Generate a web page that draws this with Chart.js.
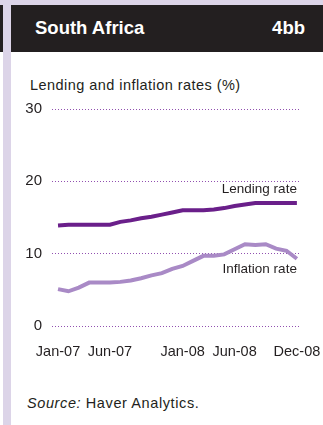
<!DOCTYPE html>
<html>
<head>
<meta charset="utf-8">
<script src="https://cdn.jsdelivr.net/npm/chart.js@4/dist/chart.umd.min.js"></script>
<style>
  html, body { margin: 0; padding: 0; background: #fff; }
  body { width: 323px; height: 425px; position: relative; overflow: hidden;
         font-family: "Liberation Sans", Arial, sans-serif; color: #231f20; }
  .band { position: absolute; background: #dcd4e8; }
  #header { position: absolute; left: 11px; top: 5px; width: 312px; height: 47px; background: #231f20; }
  #header-edge { position: absolute; left: 0; top: 5px; width: 3px; height: 47px; background: #231f20; }
  #header span { position: absolute; top: 12px; color: #fff; font-weight: bold; font-size: 18.5px; }
  #title { position: absolute; left: 30px; top: 77px; font-size: 14.5px; letter-spacing: 0.45px; color: #231f20; }
  #source { position: absolute; left: 27px; top: 395px; font-size: 14.5px; letter-spacing: 0.6px; color: #231f20; }
  #wrap { position: absolute; left: 11px; top: 95px; width: 312px; height: 290px; }
</style>
</head>
<body>
<div class="band" style="left:0;top:0;width:323px;height:5px;"></div>
<div id="header-edge"></div>
<div id="header">
  <span style="left:24px;">South Africa</span>
  <span style="right:18px;">4bb</span>
</div>
<div class="band" style="left:3px;top:0;width:8px;height:425px;"></div>
<div id="title">Lending and inflation rates (%)</div>
<div id="wrap"><canvas id="ratesChart"></canvas></div>
<div id="source"><i>Source:</i> Haver Analytics.</div>

<script>
const months = ['Jan-07','Feb-07','Mar-07','Apr-07','May-07','Jun-07','Jul-07','Aug-07','Sep-07','Oct-07','Nov-07','Dec-07',
                'Jan-08','Feb-08','Mar-08','Apr-08','May-08','Jun-08','Jul-08','Aug-08','Sep-08','Oct-08','Nov-08','Dec-08'];
const tickMonths = ['Jan-07', 'Jun-07', 'Jan-08', 'Jun-08', 'Dec-08'];
const yTicks = [0, 10, 20, 30];

const lendingRate = [13.9, 14.0, 14.0, 14.0, 14.0, 14.0, 14.4, 14.6, 14.9, 15.1, 15.4, 15.7,
                     16.0, 16.0, 16.0, 16.1, 16.3, 16.6, 16.8, 17.0, 17.0, 17.0, 17.0, 17.0];
const inflationRate = [5.1, 4.8, 5.3, 6.0, 6.0, 6.0, 6.1, 6.3, 6.6, 7.0, 7.3, 7.9,
                       8.3, 9.0, 9.7, 9.7, 9.9, 10.6, 11.3, 11.2, 11.3, 10.7, 10.4, 9.3];

const seriesLabels = [
    { text: 'Lending rate', value: 18.9 },
    { text: 'Inflation rate', value: 7.9 }
];

const textFont = '"Liberation Sans", Arial, sans-serif';

// series names written at the right end of each line
const lineLabels = {
    id: 'lineLabels',
    afterDraw(chart) {
        const { ctx, scales } = chart;
        const x = scales.x.getPixelForValue(months.length - 1);
        ctx.save();
        ctx.font = '13.5px ' + textFont;
        ctx.fillStyle = '#231f20';
        ctx.textAlign = 'right';
        ctx.textBaseline = 'middle';
        seriesLabels.forEach(function(l) {
            ctx.fillText(l.text, x, scales.y.getPixelForValue(l.value));
        });
        ctx.restore();
    }
};

function toPoints(values) {
    return values.map(function(v, i) { return { x: i, y: v }; });
}

function ratesChart() {
    const ctx = document.getElementById('ratesChart').getContext('2d');
    new Chart(ctx, {
        type: 'line',
        data: {
            datasets: [
                {
                    label: 'Lending rate',
                    data: toPoints(lendingRate),
                    borderColor: '#6a1f8a',
                    borderWidth: 4,
                    pointRadius: 0,
                    tension: 0
                },
                {
                    label: 'Inflation rate',
                    data: toPoints(inflationRate),
                    borderColor: '#a98ac6',
                    borderWidth: 4,
                    pointRadius: 0,
                    tension: 0
                }
            ]
        },
        options: {
            responsive: true,
            maintainAspectRatio: false,
            animation: false,
            layout: {
                padding: { left: 0, right: 23, top: 14, bottom: 25 }
            },
            plugins: {
                legend: { display: false },
                title: { display: false },
                tooltip: { enabled: false }
            },
            scales: {
                x: {
                    type: 'linear',
                    min: -0.58,
                    max: 23.3,
                    afterBuildTicks: function(scale) {
                        scale.ticks = tickMonths.map(function(m) { return { value: months.indexOf(m) }; });
                    },
                    afterFit: function(scale) {
                        scale.height = 34;
                        scale.paddingLeft = 0;
                        scale.paddingRight = 0;
                    },
                    grid: { display: false },
                    border: { display: false },
                    ticks: {
                        autoSkip: false,
                        maxRotation: 0,
                        padding: 9,
                        color: '#231f20',
                        font: { family: textFont, size: 14.5 },
                        callback: function(value) { return months[value]; }
                    }
                },
                y: {
                    min: 0,
                    max: 30,
                    afterBuildTicks: function(scale) {
                        scale.ticks = yTicks.map(function(v) { return { value: v }; });
                    },
                    afterFit: function(scale) {
                        scale.width = 41;
                        scale.paddingTop = 0;
                        scale.paddingBottom = 0;
                    },
                    grid: {
                        color: '#9150b0',
                        lineWidth: 1,
                        drawTicks: false
                    },
                    border: { display: false, dash: [1, 2] },
                    ticks: {
                        padding: 10,
                        color: '#231f20',
                        font: { family: textFont, size: 15 }
                    }
                }
            }
        },
        plugins: [lineLabels]
    });
}

ratesChart();
</script>
</body>
</html>
